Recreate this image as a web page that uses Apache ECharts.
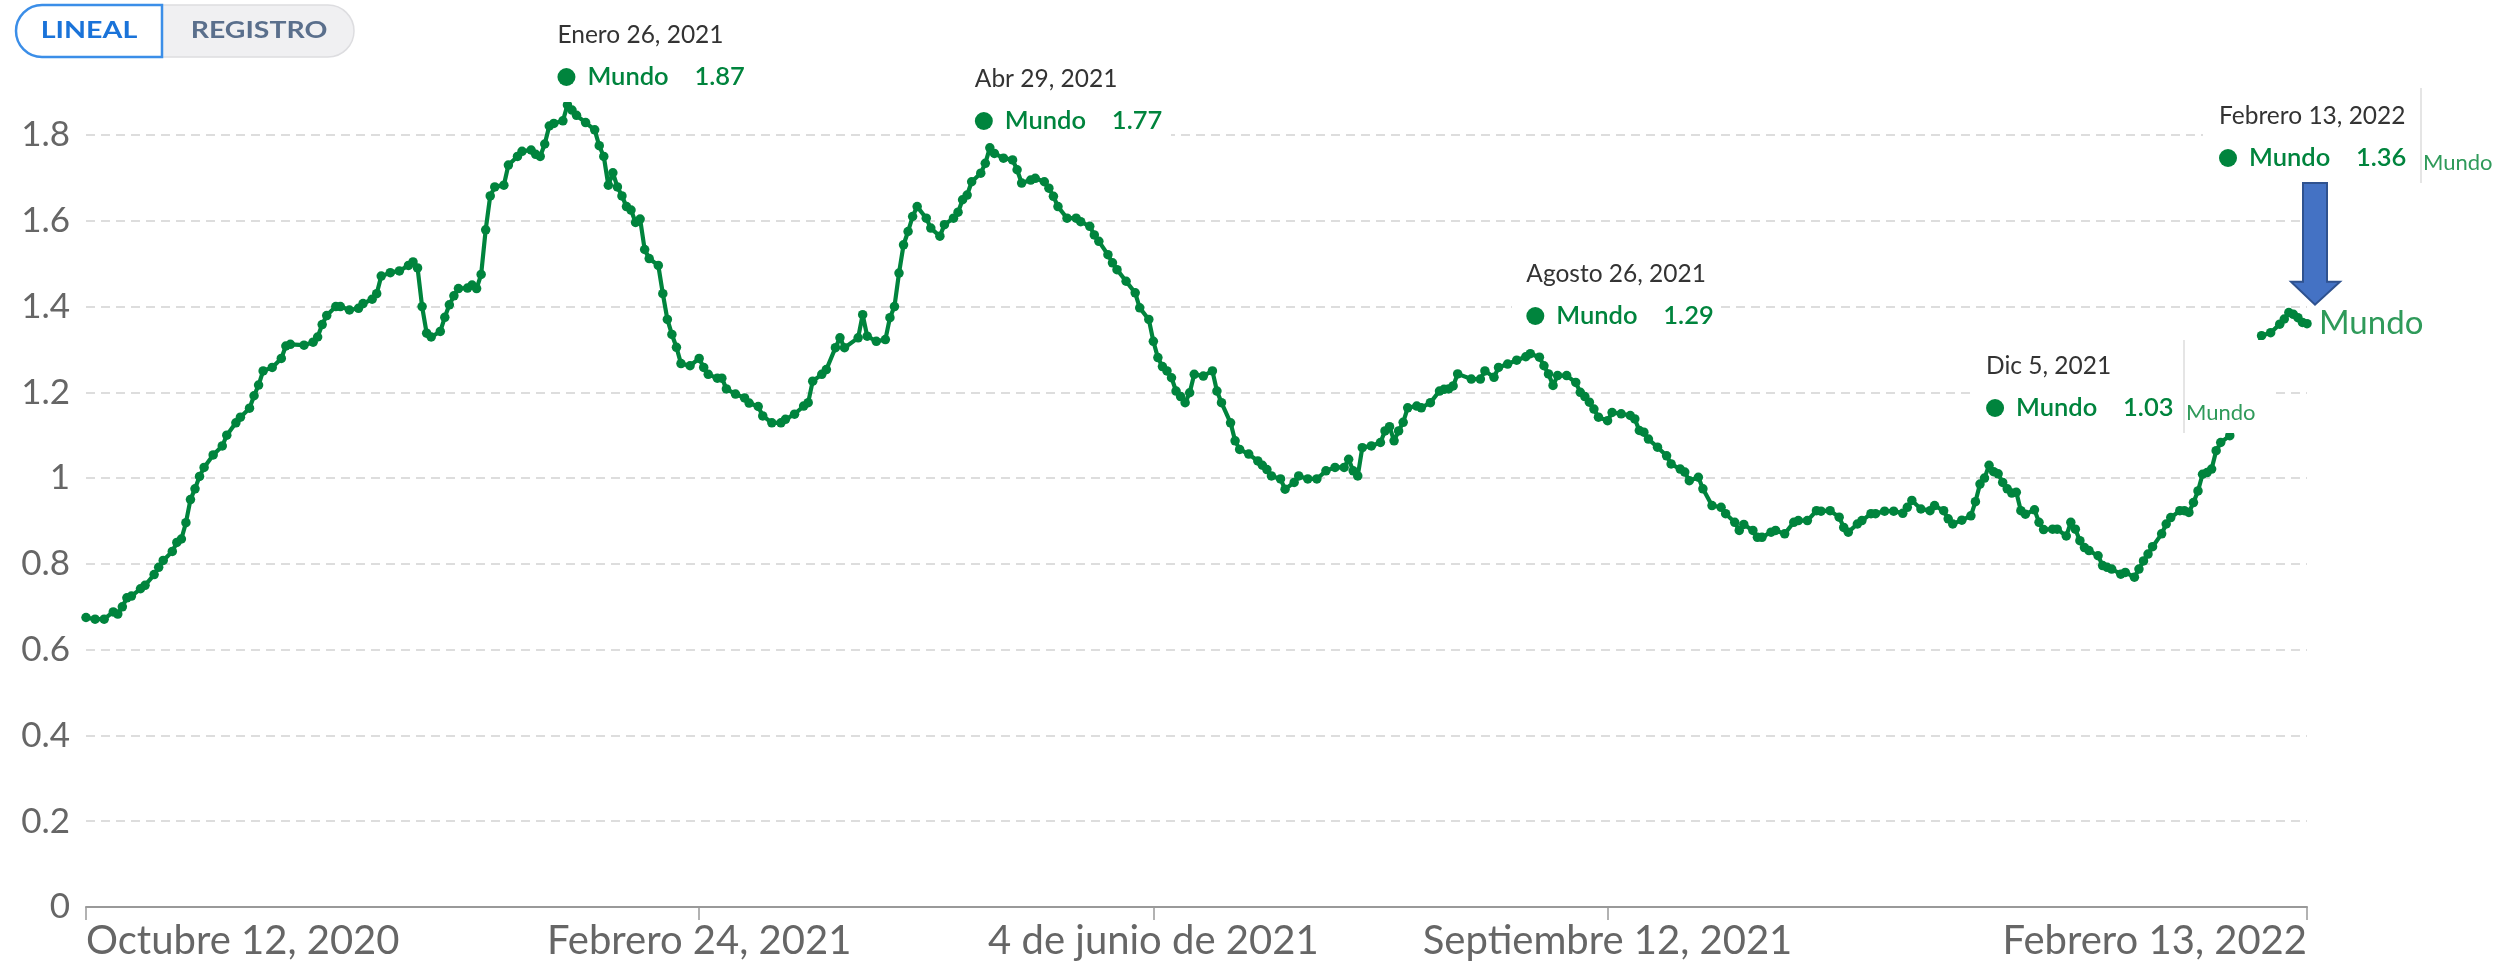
<!DOCTYPE html>
<html><head><meta charset="utf-8">
<script src="https://cdn.jsdelivr.net/npm/echarts@6/dist/echarts.min.js"></script>
<style>html,body{margin:0;padding:0;background:#fff}#c{width:2501px;height:965px}</style>
</head><body><div id="c"></div>
<script>
// ---- data ----
const seriesName = 'Mundo';
const startYear = 2020, startMonth = 10, startDay = 12; // 12 Oct 2020
const dayOffsets = [0,2,4,6,7,8,9,10,12,13,15,16,17,19,20,21,22,23,24,25,26,28,30,31,33,34,36,37,38,39,41,43,44,45,48,50,51,52,53,55,56,58,60,61,63,64,65,67,69,71,72,73,74,75,76,78,79,80,81,82,84,85,86,87,88,89,90,92,93,95,96,98,99,100,101,102,103,105,106,107,108,110,112,113,114,115,116,117,118,119,120,121,122,123,124,126,127,128,129,130,131,133,135,136,137,139,140,141,143,145,146,148,149,151,153,154,156,158,159,160,162,163,165,166,167,170,171,172,174,176,177,178,179,180,181,182,183,185,186,188,189,191,192,193,194,195,197,198,199,200,202,204,205,206,208,209,211,212,213,214,216,218,219,221,222,223,225,226,227,229,231,232,234,235,236,237,238,239,240,241,242,243,244,246,248,249,250,252,253,254,256,258,259,260,261,263,264,266,267,269,271,273,275,277,278,279,280,281,283,285,286,287,288,289,290,291,293,294,296,298,299,300,301,302,305,307,308,310,311,313,315,317,318,320,321,322,323,324,326,328,329,330,331,332,333,335,336,338,340,341,342,343,344,346,348,349,351,352,353,355,356,358,360,361,363,364,365,367,368,369,371,372,374,376,377,379,381,382,384,386,387,388,390,391,393,394,396,398,400,401,402,404,406,407,409,410,411,413,415,416,417,418,419,420,421,422,423,424,425,426,427,429,430,431,433,434,436,437,438,439,440,441,443,444,445,446,448,449,451,452,453,454,455,457,458,459,461,462,463,464,465,466,467,468,469,470,472,479,481,483,484,485,486,487,488,489];
const values = [0.675,0.671,0.671,0.688,0.683,0.70,0.721,0.725,0.742,0.75,0.775,0.792,0.808,0.829,0.85,0.858,0.896,0.95,0.975,1.004,1.025,1.054,1.075,1.10,1.129,1.142,1.163,1.192,1.217,1.25,1.258,1.279,1.308,1.312,1.31,1.317,1.329,1.358,1.379,1.40,1.40,1.392,1.396,1.407,1.417,1.43,1.471,1.479,1.483,1.496,1.504,1.49,1.40,1.338,1.329,1.342,1.375,1.404,1.425,1.442,1.443,1.45,1.442,1.475,1.579,1.658,1.679,1.683,1.73,1.75,1.762,1.765,1.755,1.75,1.779,1.821,1.827,1.833,1.87,1.858,1.846,1.829,1.812,1.775,1.75,1.683,1.712,1.679,1.658,1.633,1.625,1.596,1.604,1.533,1.512,1.496,1.43,1.37,1.335,1.305,1.267,1.262,1.279,1.258,1.242,1.233,1.233,1.208,1.196,1.187,1.175,1.167,1.145,1.129,1.129,1.137,1.149,1.168,1.176,1.226,1.242,1.253,1.304,1.327,1.304,1.327,1.381,1.331,1.319,1.323,1.374,1.40,1.478,1.544,1.575,1.61,1.633,1.606,1.583,1.564,1.591,1.606,1.62,1.649,1.66,1.691,1.711,1.734,1.77,1.757,1.746,1.742,1.719,1.688,1.695,1.699,1.691,1.676,1.657,1.633,1.606,1.606,1.598,1.587,1.567,1.552,1.521,1.502,1.486,1.459,1.432,1.397,1.37,1.319,1.281,1.26,1.25,1.234,1.203,1.19,1.176,1.199,1.242,1.238,1.25,1.203,1.176,1.129,1.087,1.067,1.056,1.04,1.03,1.02,1.005,0.998,0.974,0.99,1.005,0.998,0.998,1.017,1.025,1.025,1.044,1.017,1.005,1.071,1.075,1.083,1.11,1.12,1.087,1.11,1.13,1.164,1.168,1.164,1.176,1.203,1.207,1.208,1.215,1.243,1.231,1.231,1.25,1.235,1.258,1.266,1.275,1.283,1.29,1.282,1.262,1.243,1.216,1.239,1.239,1.223,1.2,1.19,1.177,1.161,1.142,1.134,1.153,1.15,1.146,1.138,1.111,1.107,1.091,1.072,1.052,1.033,1.021,1.014,0.994,1.002,0.975,0.936,0.932,0.917,0.897,0.878,0.892,0.878,0.862,0.862,0.874,0.878,0.87,0.897,0.901,0.901,0.924,0.923,0.924,0.909,0.885,0.874,0.893,0.901,0.917,0.917,0.923,0.923,0.918,0.932,0.948,0.928,0.924,0.936,0.924,0.905,0.893,0.902,0.912,0.945,0.986,1.0,1.03,1.015,1.01,0.99,0.975,0.965,0.967,0.924,0.916,0.926,0.897,0.88,0.881,0.881,0.865,0.897,0.881,0.854,0.838,0.831,0.819,0.796,0.792,0.788,0.776,0.78,0.769,0.788,0.807,0.823,0.84,0.87,0.893,0.908,0.924,0.924,0.92,0.943,0.97,1.009,1.013,1.021,1.064,1.083,1.099,1.332,1.339,1.359,1.371,1.386,1.382,1.374,1.363,1.36];
const tickDays = [0, 135, 235, 335, 489];
const tickLabels = ['Octubre 12, 2020', 'Febrero 24, 2021', '4 de junio de 2021', 'Septiembre 12, 2021', 'Febrero 13, 2022'];
const yTicks = [0, 0.2, 0.4, 0.6, 0.8, 1, 1.2, 1.4, 1.6, 1.8];
const tipDays = [106, 199, 318, 419, 489];
const tipDates = ['Enero 26, 2021', 'Abr 29, 2021', 'Agosto 26, 2021', 'Dic 5, 2021', 'Febrero 13, 2022'];
const tipValues = ['1.87', '1.77', '1.29', '1.03', '1.36'];
const buttons = ['LINEAL', 'REGISTRO'];

// ---- layout / style (pixels) ----
const GREEN = '#00843d';
const LIGHT_GREEN = '#2f9a5a';
const tipLayout = [
  {dx: -1, dotY: 77,  box: [540, 6, 225, 96]},
  {dx: -6, dotY: 121, box: [966, 52, 205, 90]},
  {dx: 5,  dotY: 316, box: [1512, 245, 205, 88]},
  {dx: 6,  dotY: 408, box: [1975, 340, 296, 93], side: 2184},
  {dx: -79, dotY: 158, box: [2203, 88, 298, 95], side: 2421}
];

function ts(d) { return new Date(startYear, startMonth - 1, startDay + d).getTime(); }
const tickTs = tickDays.map(ts);
const seriesData = dayOffsets.map((d, i) => [ts(d), values[i]]);

const chart = echarts.init(document.getElementById('c'), null, {renderer: 'canvas'});
chart.setOption({
  animation: false,
  backgroundColor: '#fff',
  grid: {left: 86, right: 194, top: 135, bottom: 58, containLabel: false},
  xAxis: {
    type: 'value',
    min: tickTs[0],
    max: tickTs[tickTs.length - 1],
    axisLine: {show: true, lineStyle: {color: '#999', width: 2}},
    axisTick: {show: true, customValues: tickTs, length: 13, lineStyle: {color: '#999', width: 1.5}},
    splitLine: {show: false},
    axisLabel: {
      customValues: tickTs,
      hideOverlap: false,
      showMinLabel: true, showMaxLabel: true,
      alignMinLabel: 'left', alignMaxLabel: 'right',
      margin: 14,
      color: '#666', fontSize: 40, fontFamily: 'Lato',
      formatter: function (val) {
        let best = 0, bd = Infinity;
        tickTs.forEach((t, i) => { const dd = Math.abs(t - val); if (dd < bd) { bd = dd; best = i; } });
        return tickLabels[best];
      }
    }
  },
  yAxis: {
    type: 'value', min: yTicks[0], max: yTicks[yTicks.length - 1], interval: 0.2,
    axisLine: {show: false}, axisTick: {show: false},
    axisLabel: {color: '#666', fontSize: 35, fontFamily: 'Lato', margin: 16,
      formatter: v => String(+(+v).toFixed(1))},
    splitLine: {show: true, lineStyle: {color: '#ddd', width: 2, type: [9, 6]}}
  },
  series: [{
    name: seriesName, type: 'line', data: seriesData,
    showSymbol: true, symbol: 'circle', symbolSize: 9.5,
    clip: false,
    lineStyle: {color: GREEN, width: 4.2},
    itemStyle: {color: GREEN},
    endLabel: {show: true, formatter: seriesName, color: LIGHT_GREEN, fontSize: 33, fontFamily: 'Lato', distance: 12}
  }]
});

// ---- annotations anchored to the data ----
const els = [];
const FONT = 'Lato';
function txt(t, x, y, size, fill, weight) {
  return {type: 'text', z: 101, style: {text: t, x: x, y: y, fill: fill, fontSize: size, fontFamily: FONT,
    fontWeight: weight || 'normal',
    align: 'left', verticalAlign: 'middle', textAlign: 'left', textVerticalAlign: 'middle'}};
}
tipDays.forEach((d, i) => {
  const lay = tipLayout[i];
  const px = chart.convertToPixel({gridIndex: 0}, [ts(d), 1])[0];
  const dotX = px + lay.dx, dotY = lay.dotY;
  const b = lay.box;
  els.push({type: 'rect', z: 100, shape: {x: b[0], y: b[1], width: b[2], height: b[3]}, style: {fill: '#fff'}});
  els.push(txt(tipDates[i], dotX - 9, dotY - 42, 24.5, '#333'));
  els.push({type: 'circle', z: 101, shape: {cx: dotX, cy: dotY, r: 9}, style: {fill: GREEN}});
  els.push(txt(seriesName, dotX + 21, dotY, 25.5, GREEN, 600));
  els.push(txt(tipValues[i], dotX + 128, dotY, 25.5, GREEN, 600));
  if (lay.side) {
    els.push({type: 'line', z: 101, shape: {x1: lay.side, y1: b[1], x2: lay.side, y2: b[1] + b[3]}, style: {stroke: '#ddd', lineWidth: 1.5}});
    els.push(txt(seriesName, lay.side + 2, dotY + 5, 22, LIGHT_GREEN));
  }
});

// blue arrow pointing at the last value
const last = chart.convertToPixel({gridIndex: 0}, seriesData[seriesData.length - 1]);
const tipX = last[0] + 8, tipY = last[1] - 19;
els.push({type: 'polygon', z: 102, shape: {points: [
  [tipX - 12, 183], [tipX + 12, 183], [tipX + 12, tipY - 23], [tipX + 25, tipY - 23],
  [tipX, tipY], [tipX - 24, tipY - 23], [tipX - 12, tipY - 23]
]}, style: {fill: '#4472c4', stroke: '#2f528f', lineWidth: 2}});

// scale toggle buttons
els.push({type: 'rect', z: 100, shape: {x: 16, y: 5, width: 338, height: 52, r: 26}, style: {fill: '#f0f0f2', stroke: '#dddde0', lineWidth: 1.5}});
els.push({type: 'rect', z: 101, shape: {x: 16, y: 5, width: 146, height: 52, r: [26, 0, 0, 26]}, style: {fill: '#fff', stroke: '#3b8ee8', lineWidth: 2.5}});
els.push({type: 'text', z: 102, x: 89, y: 31, scaleX: 1.3, style: {text: buttons[0], x: 0, y: 0, fill: '#1a73d9',
  fontSize: 22, fontWeight: 'bold', fontFamily: FONT, align: 'center', verticalAlign: 'middle', textAlign: 'center', textVerticalAlign: 'middle'}});
els.push({type: 'text', z: 102, x: 259, y: 31, scaleX: 1.29, style: {text: buttons[1], x: 0, y: 0, fill: '#5a6f8c',
  fontSize: 22, fontWeight: 'bold', fontFamily: FONT, align: 'center', verticalAlign: 'middle', textAlign: 'center', textVerticalAlign: 'middle'}});

chart.setOption({graphic: {elements: els}});
</script>
</body></html>
